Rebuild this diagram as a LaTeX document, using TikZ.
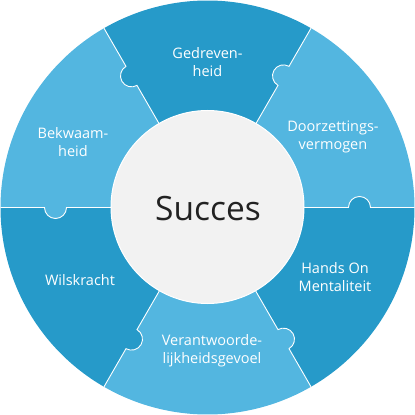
\documentclass[tikz,border=0pt]{standalone}
\usepackage{fontspec}
\setmainfont{Open Sans}
\definecolor{darkseg}{RGB}{38,154,201}
\definecolor{lightseg}{RGB}{83,182,224}
\definecolor{hubfill}{RGB}{242,242,242}
\definecolor{hubtext}{RGB}{34,34,34}
\begin{document}
\begin{tikzpicture}[x=1pt,y=1pt,
  lbl/.style={text=white, font=\fontsize{14.5}{18}\selectfont, align=center, inner sep=0pt},
  sepline/.style={white, line width=0.9pt}]
\useasboundingbox (-207.5,-207.5) rectangle (207.5,207.5);
\def\Ro{207}
\def\Ri{96.5}
% segments
\foreach \a/\c in {0/lightseg,60/darkseg,120/lightseg,180/darkseg,240/lightseg,300/darkseg}{
  \fill[\c] (0,0) -- (\a:\Ro) arc[start angle=\a, end angle=\a+60, radius=\Ro] -- cycle;
}
% puzzle tabs and separating lines
\foreach \a/\c in {0/darkseg,60/lightseg,120/darkseg,180/lightseg,240/darkseg,300/lightseg}{
  \fill[\c] (\a:152) circle[radius=11];
  \draw[sepline] (\a:\Ri) -- (\a:141) arc[start angle=\a+180, end angle=\a, radius=11] -- (\a:\Ro);
}
% hub
\fill[hubfill, draw=white, line width=1pt] (0,0.5) circle[radius=96.5];
\node[text=hubtext, font=\fontsize{33.5}{40}\selectfont, inner sep=0pt] (succes) at (0.5,-1.5) {Succes};
% labels
\node[lbl] (gedreven) at (0,145.5) {Gedreven-\\heid};
\node[lbl] (doorzet) at (125.5,70.5) {Doorzettings-\\vermogen};
\node[lbl] (hands) at (127.5,-69.5) {Hands On\\Mentaliteit};
\node[lbl] (bekwaam) at (-134.5,65.5) {Bekwaam-\\heid};
\node[lbl] (wils) at (-127.5,-72.5) {Wilskracht};
\node[lbl] (verant) at (4.5,-143.5) {Verantwoorde-\\lijkheidsgevoel};
\end{tikzpicture}
\end{document}
